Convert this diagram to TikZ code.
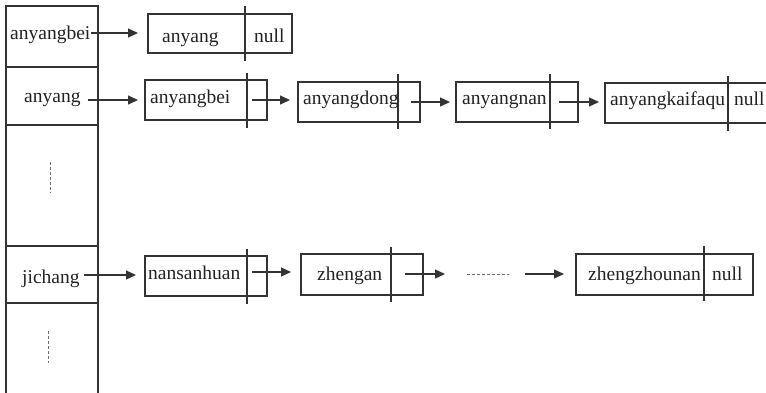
\documentclass[tikz,border=0pt]{standalone}
\usepackage{fontspec}
\setmainfont{Liberation Serif}
\usetikzlibrary{arrows.meta}
\definecolor{ln}{HTML}{333333}
\definecolor{tx}{HTML}{222222}
\tikzset{
  x=1pt,y=-1pt,
  ln/.style={draw=ln,line width=1.3pt},
  arr/.style={draw=ln,line width=1.3pt,-{Triangle[length=10pt,width=9pt]}},
  dsh/.style={draw=ln!70,line width=1pt,dash pattern=on 3pt off 2pt},
  lbl/.style={anchor=base west,inner sep=0pt,text=tx,font=\fontsize{19.5}{23}\selectfont},
  cell/.style={draw=ln,line width=1.3pt,inner sep=0pt},
}
\begin{document}
\begin{tikzpicture}
\useasboundingbox (0,0) rectangle (766,392);
% hash table column
\draw[ln] (6,396) -- (6,6) -- (98,6) -- (98,396);
\foreach \yy in {67,125,246,303} \draw[ln] (6,\yy) -- (98,\yy);
\draw[dsh] (50,162) -- (50,193);
\draw[dsh] (48,331) -- (48,363);
\node[lbl] (k1) at (10,39) {anyangbei};
\node[lbl] (k2) at (24,102) {anyang};
\node[lbl] (k3) at (22,283) {jichang};
% row 1
\node[cell,minimum width=144pt,minimum height=39pt] (b1) at (220,33.5) {};
\draw[ln] (245,6) -- (245,61);
\node[lbl] (b1t) at (162,42) {anyang};
\node[lbl] (b1n) at (254,42) {null};
\coordinate (a1s) at (91,33); \coordinate (a1e) at (138,33);
\draw[arr] (a1s) -- (a1e);
% row 2
\node[cell,minimum width=122pt,minimum height=40pt] (bA) at (206,100) {};
\draw[ln] (247,73) -- (247,128);
\node[lbl] (bAt) at (150,103) {anyangbei};
\node[cell,minimum width=122pt,minimum height=40pt] (bB) at (359,102) {};
\draw[ln] (398,74) -- (398,129);
\node[lbl] (bBt) at (303,104) {anyangdong};
\node[cell,minimum width=122pt,minimum height=40pt] (bC) at (517,102) {};
\draw[ln] (550,74) -- (550,129);
\node[lbl] (bCt) at (462,104) {anyangnan};
\node[cell,minimum width=165pt,minimum height=40pt] (bD) at (687.5,103) {};
\draw[ln] (728,76) -- (728,131);
\node[lbl] (bDt) at (610,105) {anyangkaifaqu};
\node[lbl] (bDn) at (734,105) {null};
\coordinate (a2s) at (88,100); \coordinate (a2e) at (138,100);
\draw[arr] (a2s) -- (a2e);
\coordinate (aAs) at (252,100); \coordinate (aAe) at (290,100);
\draw[arr] (aAs) -- (aAe);
\coordinate (aBs) at (411,102); \coordinate (aBe) at (450,102);
\draw[arr] (aBs) -- (aBe);
\coordinate (aCs) at (559,102); \coordinate (aCe) at (599,102);
\draw[arr] (aCs) -- (aCe);
% row 3
\node[cell,minimum width=122pt,minimum height=40pt] (bE) at (206,276) {};
\draw[ln] (247,249) -- (247,304);
\node[lbl] (bEt) at (148,279) {nansanhuan};
\node[cell,minimum width=122pt,minimum height=41pt] (bF) at (362,274.5) {};
\draw[ln] (391,247) -- (391,302);
\node[lbl] (bFt) at (317,280) {zhengan};
\node[cell,minimum width=177pt,minimum height=41pt] (bG) at (664.5,274.5) {};
\draw[ln] (704,246) -- (704,301);
\node[lbl] (bGt) at (588,280) {zhengzhounan};
\node[lbl] (bGn) at (712,280) {null};
\coordinate (a3s) at (84,275); \coordinate (a3e) at (136,275);
\draw[arr] (a3s) -- (a3e);
\coordinate (aEs) at (252,272); \coordinate (aEe) at (291,272);
\draw[arr] (aEs) -- (aEe);
\coordinate (aFs) at (405,274); \coordinate (aFe) at (445,274);
\draw[arr] (aFs) -- (aFe);
\coordinate (dS) at (467,274); \coordinate (dE) at (509,274);
\draw[dsh] (dS) -- (dE);
\coordinate (aGs) at (525,274); \coordinate (aGe) at (564,274);
\draw[arr] (aGs) -- (aGe);
\end{tikzpicture}
\end{document}
